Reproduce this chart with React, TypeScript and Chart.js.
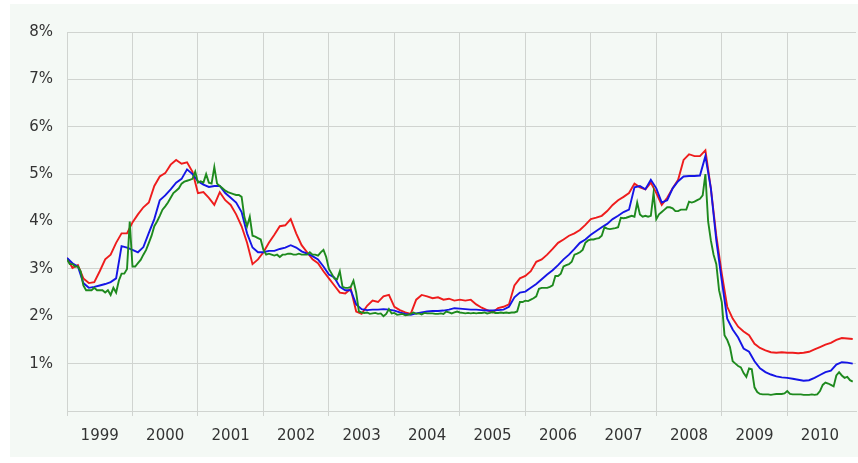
import { useEffect, useRef } from 'react';
import Chart from 'chart.js/auto';

// Start of the series (decimal year) and sampling steps
const START_YEAR = 1999;
const MONTHLY_STEP = 1 / 12;
const HALF_MONTH_STEP = 1 / 24;

// X axis: year gridlines / labels
const yearTicks = [1999, 2000, 2001, 2002, 2003, 2004, 2005, 2006, 2007, 2008, 2009, 2010];
// Y axis ticks (percent)
const percentTicks = [0, 1, 2, 3, 4, 5, 6, 7, 8];

// 12-month rate (red), monthly from Jan 1999
const rate12m = [
  3.23, 3.02, 3.08, 2.80, 2.70, 2.72, 2.95, 3.20, 3.30, 3.55, 3.75, 3.75,
  3.98, 4.15, 4.30, 4.40, 4.75, 4.95, 5.02, 5.20, 5.30, 5.22, 5.25, 5.05,
  4.60, 4.62, 4.50, 4.35, 4.62, 4.45, 4.35, 4.15, 3.90, 3.55, 3.10, 3.20,
  3.35, 3.55, 3.72, 3.90, 3.92, 4.05, 3.75, 3.50, 3.35, 3.20, 3.12, 2.95,
  2.80, 2.65, 2.50, 2.48, 2.58, 2.10, 2.05, 2.22, 2.33, 2.30, 2.42, 2.45,
  2.20, 2.13, 2.08, 2.05, 2.35, 2.45, 2.42, 2.38, 2.40, 2.35, 2.37, 2.33,
  2.35, 2.33, 2.35, 2.25, 2.18, 2.13, 2.08, 2.17, 2.20, 2.25, 2.65, 2.80,
  2.85, 2.95, 3.15, 3.20, 3.30, 3.42, 3.55, 3.62, 3.70, 3.75, 3.82, 3.93,
  4.05, 4.08, 4.12, 4.22, 4.35, 4.45, 4.52, 4.60, 4.80, 4.72, 4.68, 4.82,
  4.60, 4.35, 4.50, 4.70, 4.88, 5.30, 5.42, 5.38, 5.38, 5.50, 4.70, 3.70,
  2.90, 2.20, 1.95, 1.78, 1.68, 1.60, 1.42, 1.33, 1.28, 1.24, 1.23, 1.24,
  1.23, 1.23, 1.22, 1.23, 1.25, 1.30, 1.35, 1.40, 1.44, 1.50, 1.54, 1.53,
  1.52,
];

// 3-month rate (blue), monthly from Jan 1999
const rate3m = [
  3.23, 3.12, 3.05, 2.70, 2.60, 2.62, 2.65, 2.68, 2.72, 2.80, 3.48, 3.45,
  3.40, 3.35, 3.46, 3.76, 4.05, 4.45, 4.55, 4.68, 4.82, 4.90, 5.10, 5.00,
  4.85, 4.78, 4.73, 4.75, 4.75, 4.60, 4.50, 4.40, 4.20, 3.75, 3.45, 3.35,
  3.35, 3.38, 3.38, 3.42, 3.45, 3.50, 3.45, 3.37, 3.32, 3.27, 3.20, 3.05,
  2.88, 2.82, 2.62, 2.55, 2.55, 2.25, 2.15, 2.13, 2.14, 2.14, 2.15, 2.14,
  2.12, 2.08, 2.05, 2.03, 2.06, 2.08, 2.10, 2.11, 2.11, 2.12, 2.14, 2.17,
  2.16, 2.15, 2.14, 2.14, 2.13, 2.12, 2.12, 2.13, 2.14, 2.20, 2.40, 2.50,
  2.52, 2.60, 2.68, 2.78, 2.88, 2.97, 3.08, 3.20, 3.30, 3.42, 3.55, 3.62,
  3.72, 3.80, 3.88, 3.95, 4.05, 4.12, 4.20, 4.25, 4.72, 4.75, 4.68, 4.88,
  4.70, 4.40, 4.45, 4.70, 4.85, 4.95, 4.96, 4.96, 4.97, 5.38, 4.70, 3.60,
  2.75, 1.95, 1.72, 1.55, 1.32, 1.25, 1.05, 0.90, 0.82, 0.77, 0.73, 0.71,
  0.70, 0.68, 0.66, 0.64, 0.65, 0.70, 0.76, 0.82, 0.85, 0.98, 1.03, 1.02,
  1.00,
];

// Overnight rate (green), half-monthly from Jan 1999
const rateOvernight = [
  3.20, 3.10, 3.10, 3.05, 3.05, 2.95, 2.65, 2.55, 2.55, 2.55, 2.60, 2.55, 2.55, 2.55, 2.50, 2.55, 2.45, 2.60, 2.50, 2.75, 2.90, 2.90, 3.00, 4.00,
  3.05, 3.05, 3.12, 3.19, 3.30, 3.40, 3.55, 3.70, 3.90, 4.00, 4.12, 4.25, 4.32, 4.40, 4.50, 4.60, 4.65, 4.70, 4.80, 4.84, 4.86, 4.88, 4.90, 5.05,
  4.82, 4.85, 4.82, 5.00, 4.82, 4.80, 5.15, 4.80, 4.75, 4.70, 4.65, 4.62, 4.60, 4.58, 4.56, 4.56, 4.52, 4.10, 3.90, 4.10, 3.70, 3.68, 3.65, 3.62,
  3.40, 3.30, 3.32, 3.30, 3.28, 3.30, 3.25, 3.30, 3.30, 3.32, 3.32, 3.30, 3.30, 3.32, 3.30, 3.30, 3.30, 3.35, 3.30, 3.30, 3.28, 3.35, 3.40, 3.25,
  3.00, 2.90, 2.80, 2.78, 2.95, 2.62, 2.60, 2.60, 2.62, 2.75, 2.50, 2.10, 2.08, 2.07, 2.08, 2.05, 2.06, 2.07, 2.05, 2.06, 2.00, 2.05, 2.15, 2.06,
  2.07, 2.03, 2.04, 2.05, 2.02, 2.03, 2.05, 2.08, 2.05, 2.06, 2.04, 2.07, 2.06, 2.06, 2.06, 2.05, 2.05, 2.06, 2.05, 2.10, 2.08, 2.06, 2.08, 2.10,
  2.08, 2.07, 2.06, 2.07, 2.06, 2.07, 2.06, 2.07, 2.07, 2.08, 2.06, 2.07, 2.09, 2.07, 2.07, 2.08, 2.07, 2.08, 2.07, 2.08, 2.08, 2.10, 2.30, 2.30,
  2.33, 2.32, 2.35, 2.38, 2.42, 2.58, 2.60, 2.60, 2.60, 2.62, 2.65, 2.85, 2.85, 2.90, 3.05, 3.08, 3.10, 3.15, 3.30, 3.32, 3.35, 3.40, 3.55, 3.60,
  3.62, 3.62, 3.64, 3.65, 3.70, 3.88, 3.85, 3.84, 3.85, 3.86, 3.88, 4.08, 4.07, 4.08, 4.10, 4.12, 4.10, 4.40, 4.15, 4.10, 4.12, 4.10, 4.12, 4.60,
  4.05, 4.15, 4.20, 4.25, 4.30, 4.30, 4.28, 4.22, 4.22, 4.25, 4.25, 4.25, 4.42, 4.40, 4.42, 4.45, 4.48, 4.55, 5.00, 4.00, 3.60, 3.30, 3.10, 2.55,
  2.30, 1.60, 1.50, 1.35, 1.05, 1.00, 0.95, 0.92, 0.80, 0.72, 0.90, 0.88, 0.50, 0.40, 0.36, 0.35, 0.35, 0.35, 0.34, 0.35, 0.36, 0.36, 0.36, 0.37,
  0.42, 0.36, 0.35, 0.35, 0.35, 0.35, 0.34, 0.34, 0.34, 0.35, 0.34, 0.35, 0.42, 0.55, 0.60, 0.58, 0.55, 0.52, 0.75, 0.82, 0.75, 0.70, 0.72, 0.65,
  0.62,
];

const GRID = '#d0d4d0';
const PANEL = '#f4f9f5';
const TEXT = '#333333';
const FONT = { family: "'DejaVu Sans', Verdana, sans-serif", size: 15 };

const toPoints = (values: number[], step: number) =>
  values.map((v, i) => ({ x: START_YEAR + i * step, y: v }));

export default function App() {
  const ref = useRef<HTMLCanvasElement>(null);

  useEffect(() => {
    document.body.style.margin = '0';
    const line = (label: string, values: number[], step: number, color: string) => ({
      label,
      data: toPoints(values, step),
      borderColor: color,
      backgroundColor: color,
      borderWidth: 1.9,
      pointRadius: 0,
      tension: 0,
      fill: false,
    });
    const chart = new Chart(ref.current!, {
      type: 'line',
      data: {
        datasets: [
          line('Overnight', rateOvernight, HALF_MONTH_STEP, '#1e8a1e'),
          line('3 months', rate3m, MONTHLY_STEP, '#1515e6'),
          line('12 months', rate12m, MONTHLY_STEP, '#ee1c1c'),
        ],
      },
      options: {
        animation: false,
        responsive: false,
        layout: { padding: { top: 28, right: 2, left: 0, bottom: 0 } },
        plugins: { legend: { display: false }, tooltip: { enabled: false } },
        scales: {
          x: {
            type: 'linear',
            min: 1999,
            max: 2011.05,
            afterBuildTicks: (s: any) => {
              s.ticks = yearTicks.map((v) => ({ value: v }));
            },
            afterFit: (s: any) => {
              s.height = 46;
            },
            grid: { color: GRID, lineWidth: 1, drawTicks: true, tickLength: 5 },
            border: { color: GRID },
            ticks: {
              autoSkip: false,
              maxRotation: 0,
              labelOffset: 32.7,
              padding: 11,
              color: TEXT,
              font: FONT,
              callback: (v: any) => String(v),
            },
          },
          y: {
            min: 0,
            max: 8,
            afterBuildTicks: (s: any) => {
              s.ticks = percentTicks.map((v) => ({ value: v }));
            },
            afterFit: (s: any) => {
              s.width = 57;
            },
            grid: { color: GRID, lineWidth: 1, drawTicks: false },
            border: { color: GRID },
            ticks: {
              padding: 14,
              color: TEXT,
              font: FONT,
              callback: (v: any) => (v === 0 ? '' : v + '%'),
            },
          },
        },
      },
    });
    return () => chart.destroy();
  }, []);

  return (
    <div style={{ width: 858, height: 463, background: '#ffffff', position: 'relative' }}>
      <div style={{ position: 'absolute', left: 10, top: 4, width: 848, height: 453, background: PANEL }}>
        <canvas ref={ref} width={848} height={453} style={{ display: 'block' }} />
      </div>
    </div>
  );
}
